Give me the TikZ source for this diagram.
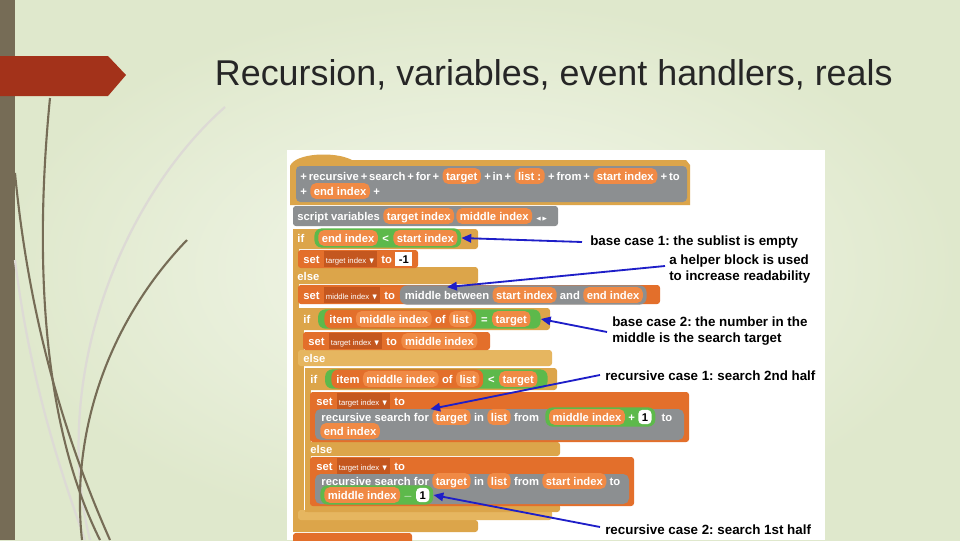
\documentclass[tikz,border=0pt]{standalone}
\usepackage{fontspec}
\usepackage{amssymb}
\setmainfont{Liberation Sans}
\usetikzlibrary{arrows.meta,positioning,fit,backgrounds}
\definecolor{bgin}{HTML}{F4F8EC}
\definecolor{bgout}{HTML}{DFE8CC}
\definecolor{barc}{HTML}{766C56}
\definecolor{redc}{HTML}{A3321A}
\definecolor{tanc}{HTML}{DCA54A}
\definecolor{elsec}{HTML}{E6B660}
\definecolor{setc}{HTML}{E36F2B}
\definecolor{varc}{HTML}{F08A45}
\definecolor{grayc}{HTML}{8C8F91}
\definecolor{greenc}{HTML}{5DB94B}
\definecolor{dropc}{HTML}{C4571F}
\definecolor{arrc}{HTML}{1E1EC8}
\pgfdeclarelayer{blocks}
\pgfdeclarelayer{wraps}
\pgfsetlayers{background,blocks,wraps,main}
\newcommand{\codefont}{\fontsize{8}{9}\selectfont\bfseries}
\tikzset{
  code/.style={font=\codefont, text=white, inner sep=0.8pt, text height=1.5ex, text depth=.25ex},
  var/.style={code, fill=varc, rounded corners=4pt, inner xsep=2.5pt, inner ysep=1pt},
  num/.style={code, fill=white, text=black, rounded corners=3pt, inner xsep=2.5pt, inner ysep=0.5pt},
  wrap/.style={inner xsep=2.5pt, inner ysep=1pt, rounded corners=5pt},
  drop/.style={font=\fontsize{5.5}{6}\selectfont, text=white, fill=dropc, inner sep=1.2pt, text height=1.5ex, text depth=.25ex},
  note/.style={font=\fontsize{9.5}{11.2}\selectfont\bfseries, anchor=west, inner sep=0pt, align=left},
  ptr/.style={-{Triangle[length=7pt,width=6pt]}, arrc, line width=1.3pt},
  stem/.style={barc, line width=1.5pt},
  stemlight/.style={barc!25, line width=1.6pt}
}
\begin{document}
\frenchspacing
\begin{tikzpicture}[x=0.025cm, y=-0.025cm, node distance=1.2pt]
\useasboundingbox (0,0) rectangle (960,540);
\begin{pgfonlayer}{background}
  \shade[inner color=bgin, outer color=bgout] (0,0) rectangle (960,540);
  % decoration
  \fill[barc] (0,0) rectangle (15,540);
  \draw[stemlight] (225,107) .. controls (120,200) and (50,380) .. (90,540);
  \draw[stemlight] (15,260) .. controls (30,380) and (60,470) .. (85,540);
  \draw[stem] (50,98) .. controls (35,250) and (40,420) .. (100,540);
  \draw[stem] (15,173) .. controls (30,330) and (70,450) .. (110,540);
  \draw[stem] (187,240) .. controls (110,320) and (70,430) .. (82,540);
  \fill[redc] (0,56) -- (108,56) -- (126,75) -- (108,96) -- (0,96) -- cycle;
  % script panel
  \fill[white] (287,150) rectangle (825,540);
\end{pgfonlayer}
\node[anchor=west, font=\fontsize{25.5}{28}\selectfont, text=black!85] (title) at (210,75) {Recursion, variables, event handlers, reals};
\begin{pgfonlayer}{blocks}
  \fill[tanc] (290,205) -- (290,166) .. controls (295,153) and (335,151) .. (352,160) -- (686,160) -- (690,165) -- (690,205) -- cycle;
  \fill[grayc, rounded corners=3] (296,166) rectangle (687,202);
  \fill[grayc, rounded corners=2] (293,206) rectangle (558,226);
  % outer if / else
  \fill[tanc, rounded corners=2] (293,229) rectangle (478,249);
  \fill[tanc] (293,229) rectangle (299,532);
  \fill[tanc, rounded corners=2] (293,267) rectangle (478,284);
  \fill[tanc, rounded corners=2] (293,520) rectangle (478,532);
  \fill[setc, rounded corners=2] (298,250) rectangle (418,268);
  \fill[setc, rounded corners=2] (298,285) rectangle (660,304);
  % inner if / else
  \fill[tanc, rounded corners=2] (298,308) rectangle (550,330);
  \fill[tanc] (298,308) rectangle (304,520);
  \fill[elsec, rounded corners=2] (298,350) rectangle (552,366);
  \fill[elsec, rounded corners=2] (298,510) rectangle (552,520);
  \fill[setc, rounded corners=2] (303,332) rectangle (490,350);
  % innermost if / else
  \fill[tanc, rounded corners=2] (305,368) rectangle (557,390);
  \fill[tanc] (305,368) rectangle (311,512);
  \fill[tanc, rounded corners=2] (305,442) rectangle (560,456);
  \fill[tanc, rounded corners=2] (305,504) rectangle (560,512);
  \fill[setc, rounded corners=2] (310,392) rectangle (689,442);
  \fill[grayc, rounded corners=4] (315,409) rectangle (684,440);
  \fill[setc, rounded corners=2] (310,457) rectangle (634,506);
  \fill[grayc, rounded corners=4] (315,474) rectangle (629,504);
  % report (cut off)
  \fill[setc, rounded corners=2] (293,533) rectangle (412,545);
\end{pgfonlayer}
% hat block
\node[code, anchor=west] (h1) at (299,176) {+\,recursive\,+\,search\,+\,for\,+};
\node[var, right=of h1] (hTarget) {target};
\node[code, right=of hTarget] (h2) {+\,in\,+};
\node[var, right=of h2] (hList) {list :};
\node[code, right=of hList] (h3) {+\,from\,+};
\node[var, right=of h3] (hStart) {start index};
\node[code, right=of hStart] (h4) {+\,to};
\node[code, anchor=west] (h5) at (299,191) {+};
\node[var, right=of h5] (hEnd) {end index};
\node[code, right=of hEnd] {+};
% script variables
\node[code, anchor=west] (sv) at (296,216) {script variables};
\node[var, right=of sv] (svTarget) {target index};
\node[var, right=of svTarget] (svMiddle) {middle index};
\node[code, right=of svMiddle, font=\fontsize{4}{5}\selectfont] {$\blacktriangleleft\blacktriangleright$};
% base case 1
\node[code, anchor=west] (if1) at (296,238) {if};
\node[var, anchor=west] (c1End) at (318,238) {end index};
\node[code, right=2pt of c1End] (c1Lt) {<};
\node[var, right=2pt of c1Lt] (c1Start) {start index};
\begin{pgfonlayer}{wraps}
  \node[wrap, fill=greenc, fit=(c1End)(c1Start)] (c1) {};
\end{pgfonlayer}
\node[code, anchor=west] (set1) at (302,259) {set};
\node[drop, right=2pt of set1] (set1Var) {target index $\blacktriangledown$};
\node[code, right=2pt of set1Var] (set1To) {to};
\node[num, right=of set1To, rounded corners=0] (set1Val) {-1};
\node[code, anchor=west] (else1) at (296,276) {else};
% set middle index
\node[code, anchor=west] (set2) at (302,295) {set};
\node[drop, right=2pt of set2] (set2Var) {middle index $\blacktriangledown$};
\node[code, right=2pt of set2Var] (set2To) {to};
\node[code, right=5pt of set2To] (mb) {middle between};
\node[var, right=of mb] (mbStart) {start index};
\node[code, right=of mbStart] (mbAnd) {and};
\node[var, right=of mbAnd] (mbEnd) {end index};
\begin{pgfonlayer}{wraps}
  \node[wrap, fill=grayc, fit=(mb)(mbEnd)] (mbBox) {};
\end{pgfonlayer}
% base case 2
\node[code, anchor=west] (if2) at (302,319) {if};
\node[code, anchor=west] (c2Item) at (328,319) {item};
\node[var, right=of c2Item] (c2Middle) {middle index};
\node[code, right=of c2Middle] (c2Of) {of};
\node[var, right=of c2Of] (c2List) {list};
\node[code, right=5pt of c2List] (c2Eq) {=};
\node[var, right=2pt of c2Eq] (c2Target) {target};
\begin{pgfonlayer}{wraps}
  \node[wrap, fill=greenc, inner xsep=7pt, fit=(c2Item)(c2Target)] (c2) {};
  \node[wrap, fill=setc, fit=(c2Item)(c2List)] (c2ItemBox) {};
\end{pgfonlayer}
\node[code, anchor=west] (set3) at (307,341) {set};
\node[drop, right=2pt of set3] (set3Var) {target index $\blacktriangledown$};
\node[code, right=2pt of set3Var] (set3To) {to};
\node[var, right=2pt of set3To] (set3Val) {middle index};
\node[code, anchor=west] (else2) at (302,358) {else};
% recursive case 1
\node[code, anchor=west] (if3) at (309,379) {if};
\node[code, anchor=west] (c3Item) at (335,379) {item};
\node[var, right=of c3Item] (c3Middle) {middle index};
\node[code, right=of c3Middle] (c3Of) {of};
\node[var, right=of c3Of] (c3List) {list};
\node[code, right=5pt of c3List] (c3Lt) {<};
\node[var, right=2pt of c3Lt] (c3Target) {target};
\begin{pgfonlayer}{wraps}
  \node[wrap, fill=greenc, inner xsep=7pt, fit=(c3Item)(c3Target)] (c3) {};
  \node[wrap, fill=setc, fit=(c3Item)(c3List)] (c3ItemBox) {};
\end{pgfonlayer}
\node[code, anchor=west] (set4) at (315,401) {set};
\node[drop, right=2pt of set4] (set4Var) {target index $\blacktriangledown$};
\node[code, right=2pt of set4Var] (set4To) {to};
\node[code, anchor=west] (r1) at (320,417) {recursive search for};
\node[var, right=of r1] (r1Target) {target};
\node[code, right=of r1Target] (r1In) {in};
\node[var, right=of r1In] (r1List) {list};
\node[code, right=of r1List] (r1From) {from};
\node[var, right=6pt of r1From] (r1Middle) {middle index};
\node[code, right=of r1Middle] (r1Plus) {+};
\node[num, right=of r1Plus] (r1One) {1};
\node[code, right=6pt of r1One] (r1To) {to};
\begin{pgfonlayer}{wraps}
  \node[wrap, fill=greenc, fit=(r1Middle)(r1One)] (r1Sum) {};
\end{pgfonlayer}
\node[var, anchor=west] (r1End) at (320,431) {end index};
\node[code, anchor=west] (else3) at (309,449) {else};
% recursive case 2
\node[code, anchor=west] (set5) at (315,466) {set};
\node[drop, right=2pt of set5] (set5Var) {target index $\blacktriangledown$};
\node[code, right=2pt of set5Var] (set5To) {to};
\node[code, anchor=west] (r2) at (320,481) {recursive search for};
\node[var, right=of r2] (r2Target) {target};
\node[code, right=of r2Target] (r2In) {in};
\node[var, right=of r2In] (r2List) {list};
\node[code, right=of r2List] (r2From) {from};
\node[var, right=of r2From] (r2Start) {start index};
\node[code, right=of r2Start] (r2To) {to};
\node[var, anchor=west] (r2Middle) at (324,495) {middle index};
\node[code, right=of r2Middle] (r2Minus) {$-$};
\node[num, right=of r2Minus] (r2One) {1};
\begin{pgfonlayer}{wraps}
  \node[wrap, fill=greenc, fit=(r2Middle)(r2One)] (r2Diff) {};
\end{pgfonlayer}
% notes
\node[note] (n1) at (590,242) {base case 1: the sublist is empty};
\node[note] (n2) at (669,269) {a helper block is used\\to increase readability};
\node[note] (n3) at (612,331) {base case 2: the number in the\\middle is the search target};
\node[note] (n4) at (605,376) {recursive case 1: search 2nd half};
\node[note] (n5) at (605,530) {recursive case 2: search 1st half};
\coordinate (s1) at (582,242);
\coordinate (s2) at (665,266);
\coordinate (s3) at (607,332);
\coordinate (s4) at (600,375);
\coordinate (s5) at (600,527);
\draw[ptr] (s1) -- (c1.east);
\draw[ptr] (s2) -- (mb.north);
\draw[ptr] (s3) -- (c2.east);
\draw[ptr] (s4) -- (r1.north east);
\draw[ptr] (s5) -- (r2Diff.east);
\end{tikzpicture}
\end{document}
